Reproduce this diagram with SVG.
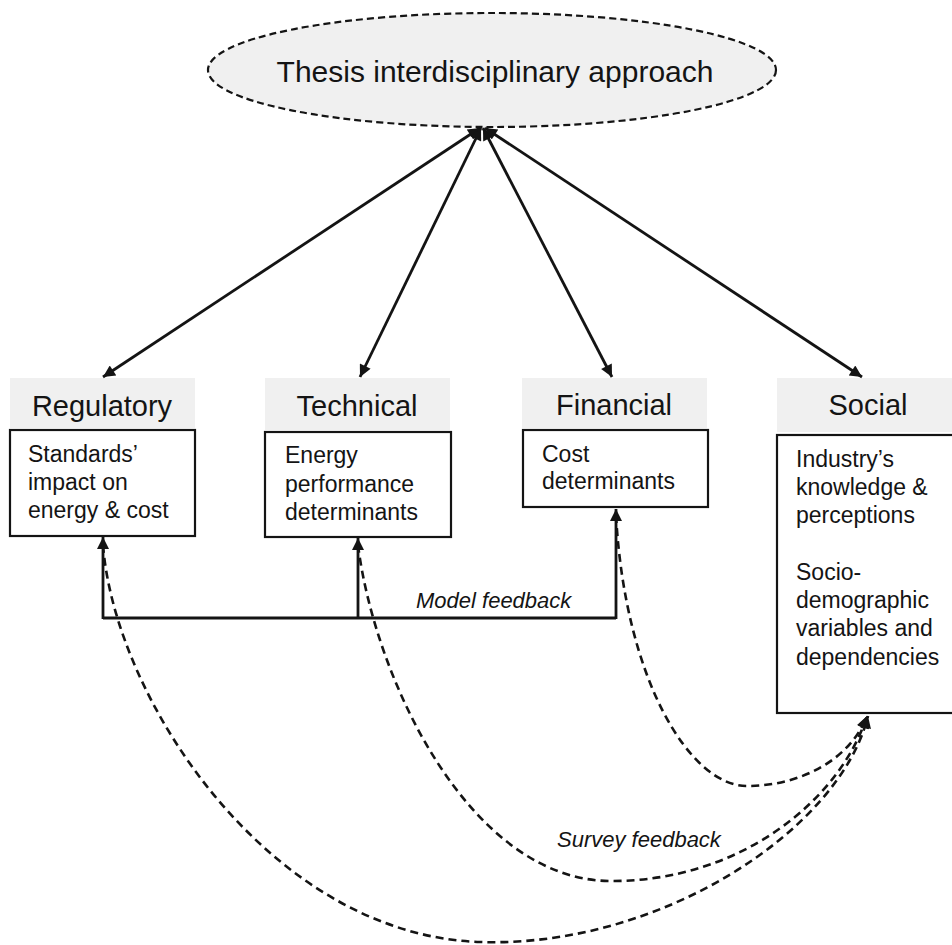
<svg xmlns="http://www.w3.org/2000/svg" width="952" height="945" viewBox="0 0 952 945">
  <style>
    text { font-family: "Liberation Sans", Arial, sans-serif; fill: #141414; }
    .title { font-size: 30px; text-anchor: middle; }
    .head { font-size: 29px; text-anchor: middle; }
    .body { font-size: 23px; }
    .label { font-size: 22px; font-style: italic; }
    .hdr { fill: #f0f0f0; stroke: none; }
    .box { fill: #fff; stroke: #141414; stroke-width: 2.2; }
    .solid { fill: none; stroke: #141414; stroke-width: 2.8; }
    .dash { fill: none; stroke: #141414; stroke-width: 2.6; stroke-dasharray: 8 5; }
  </style>
  <defs>
    <marker id="arrow" viewBox="0 0 10 10" refX="10" refY="5" markerUnits="userSpaceOnUse" markerWidth="16" markerHeight="12" orient="auto-start-reverse">
      <path d="M0,0 L10,5 L0,10 z" fill="#141414"/>
    </marker>
  </defs>

  <rect width="952" height="945" fill="#fff"/>

  <g id="thesis">
    <ellipse cx="492" cy="70" rx="284" ry="57" fill="#f0f0f0" stroke="#141414" stroke-width="2.2" stroke-dasharray="7 4"/>
    <text class="title" x="495" y="82">Thesis interdisciplinary approach</text>
  </g>

  <g id="regulatory">
    <rect class="hdr" x="10" y="378" width="185" height="50"/>
    <text class="head" x="102" y="416">Regulatory</text>
    <rect class="box" x="10" y="430" width="185" height="106"/>
    <text class="body" x="28" y="462">Standards’</text>
    <text class="body" x="28" y="490">impact on</text>
    <text class="body" x="28" y="518">energy &amp; cost</text>
  </g>

  <g id="technical">
    <rect class="hdr" x="265" y="378" width="185" height="52"/>
    <text class="head" x="357" y="416">Technical</text>
    <rect class="box" x="265" y="432" width="186" height="105"/>
    <text class="body" x="285" y="463">Energy</text>
    <text class="body" x="285" y="492">performance</text>
    <text class="body" x="285" y="520">determinants</text>
  </g>

  <g id="financial">
    <rect class="hdr" x="522" y="378" width="185" height="50"/>
    <text class="head" x="614" y="415">Financial</text>
    <rect class="box" x="523" y="430" width="185" height="77"/>
    <text class="body" x="542" y="462">Cost</text>
    <text class="body" x="542" y="489">determinants</text>
  </g>

  <g id="social">
    <rect class="hdr" x="777" y="378" width="180" height="54"/>
    <text class="head" x="868" y="415">Social</text>
    <rect class="box" x="777" y="435" width="190" height="278"/>
    <text class="body" x="796" y="467">Industry’s</text>
    <text class="body" x="796" y="495">knowledge &amp;</text>
    <text class="body" x="796" y="523">perceptions</text>
    <text class="body" x="796" y="580">Socio-</text>
    <text class="body" x="796" y="608">demographic</text>
    <text class="body" x="796" y="636">variables and</text>
    <text class="body" x="796" y="665">dependencies</text>
  </g>

  <g id="connectors">
    <!-- two-way links between the approach and each discipline -->
    <line class="solid" x1="480" y1="128" x2="103" y2="377" marker-start="url(#arrow)" marker-end="url(#arrow)"/>
    <line class="solid" x1="481" y1="128" x2="360" y2="377" marker-start="url(#arrow)" marker-end="url(#arrow)"/>
    <line class="solid" x1="483" y1="128" x2="612" y2="377" marker-start="url(#arrow)" marker-end="url(#arrow)"/>
    <line class="solid" x1="485" y1="128" x2="862" y2="377" marker-start="url(#arrow)" marker-end="url(#arrow)"/>

    <!-- model feedback bus -->
    <polyline class="solid" points="103,618 616,618"/>
    <line class="solid" x1="103" y1="619" x2="103" y2="537" marker-end="url(#arrow)"/>
    <line class="solid" x1="358" y1="619" x2="358" y2="538" marker-end="url(#arrow)"/>
    <line class="solid" x1="616" y1="619" x2="616" y2="509" marker-end="url(#arrow)"/>
    <text class="label" x="416" y="608">Model feedback</text>

    <!-- survey feedback into the social box -->
    <path class="dash" d="M103,545 C115,700 270,935 480,942 C660,948 840,830 868,716" marker-end="url(#arrow)"/>
    <path class="dash" d="M358,545 C375,680 470,880 610,881 C740,882 840,800 867,716" marker-end="url(#arrow)"/>
    <path class="dash" d="M616,515 C625,680 690,786 747,786 C800,786 850,760 867,716" marker-end="url(#arrow)"/>
    <text class="label" x="557" y="847">Survey feedback</text>
  </g>
</svg>
